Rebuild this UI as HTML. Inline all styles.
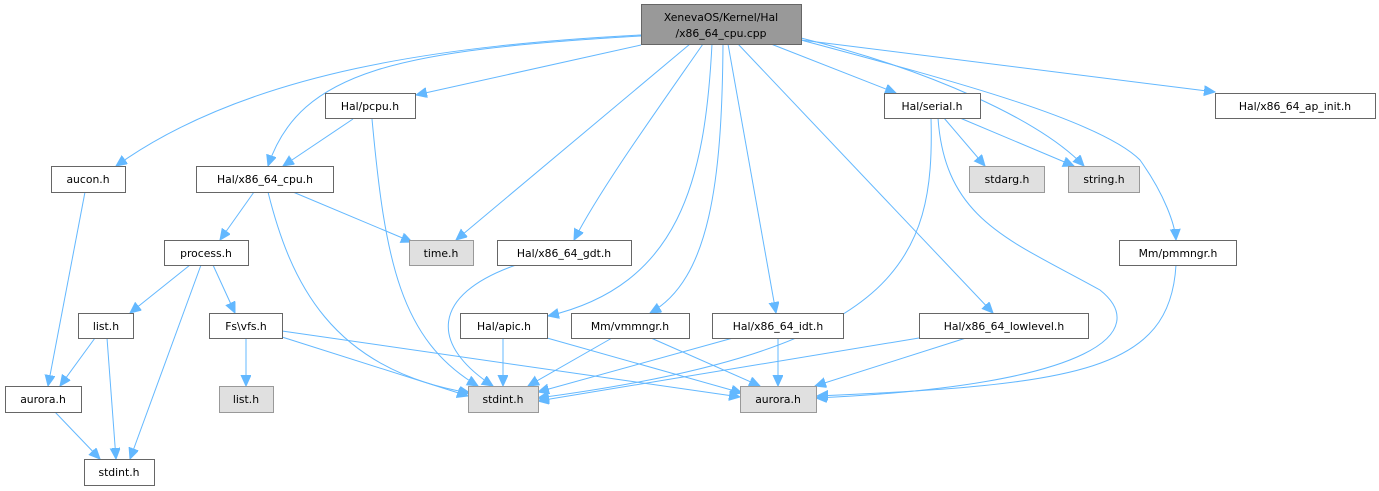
<!DOCTYPE html>
<html><head><meta charset="utf-8"><style>
html,body{margin:0;padding:0;background:#fff;}
svg{display:block;}
text{font-family:"DejaVu Sans","Liberation Sans",sans-serif;font-size:10.8px;fill:#000;text-anchor:middle;}
.e{fill:none;stroke:#63b8ff;stroke-width:1;marker-end:url(#a);}
.n{fill:#fff;stroke:#666;stroke-width:1;}
.g{fill:#e0e0e0;stroke:#999;stroke-width:1;}
</style></head><body>
<svg width="1379" height="491" viewBox="0 0 1379 491" xmlns="http://www.w3.org/2000/svg">
<defs><marker id="a" markerUnits="userSpaceOnUse" markerWidth="14" markerHeight="12" refX="11" refY="5" orient="auto"><path d="M0,0 L11,5 L0,10 z" fill="#63b8ff" stroke="#63b8ff"/></marker></defs>
<path class="e" d="M641,35 C450,45 250,70 116,166"/>
<path class="e" d="M641,36 C400,50 300,70 268,166"/>
<path class="e" d="M641,45 L416,95"/>
<path class="e" d="M353,119 L283,166"/>
<path class="e" d="M372,119 C385,260 400,340 478,386"/>
<path class="e" d="M254,192 L220,240"/>
<path class="e" d="M293,192 L412,242"/>
<path class="e" d="M268,192 C290,280 330,370 470,393"/>
<path class="e" d="M690,44 L456,240"/>
<path class="e" d="M703,44 C650,120 600,190 574,240"/>
<path class="e" d="M712,44 C705,180 680,285 548,316"/>
<path class="e" d="M723,44 C722,180 710,280 650,313"/>
<path class="e" d="M728,44 L776,313"/>
<path class="e" d="M738,44 L993,313"/>
<path class="e" d="M771,44 L896,93"/>
<path class="e" d="M801,38 C930,70 1040,120 1084,166"/>
<path class="e" d="M801,40 C950,80 1100,120 1140,160 C1165,195 1175,225 1176,240"/>
<path class="e" d="M801,40 L1215,92"/>
<path class="e" d="M944,118 L985,166"/>
<path class="e" d="M960,118 L1074,166"/>
<path class="e" d="M931,118 C935,260 900,350 538,398"/>
<path class="e" d="M938,118 C945,220 1010,240 1100,290 C1150,330 1100,385 816,398"/>
<path class="e" d="M1176,265 C1170,370 1080,385 817,396"/>
<path class="e" d="M919,338 L538,401"/>
<path class="e" d="M966,338 L815,386"/>
<path class="e" d="M778,338 L778,386"/>
<path class="e" d="M733,338 L538,392"/>
<path class="e" d="M651,338 L760,386"/>
<path class="e" d="M612,338 L528,386"/>
<path class="e" d="M503,338 L503,386"/>
<path class="e" d="M547,338 L742,393"/>
<path class="e" d="M516,265 C430,295 430,345 493,386"/>
<path class="e" d="M282,337 L468,396"/>
<path class="e" d="M282,331 L740,397"/>
<path class="e" d="M246,338 L246,386"/>
<path class="e" d="M190,265 L130,313"/>
<path class="e" d="M213,265 L235,313"/>
<path class="e" d="M201,265 L130,459"/>
<path class="e" d="M95,338 L60,386"/>
<path class="e" d="M107,338 L116,459"/>
<path class="e" d="M55,412 L100,459"/>
<path class="e" d="M85,192 L48,386"/>

<rect x="641.5" y="4.5" width="160" height="40" fill="#999" stroke="#666"/>
<text x="721" y="21">XenevaOS/Kernel/Hal</text>
<text x="721" y="37">/x86_64_cpu.cpp</text>

<rect class="n" x="325.5" y="93.5" width="90" height="25"/><text x="370" y="110">Hal/pcpu.h</text>
<rect class="n" x="884.5" y="93.5" width="96" height="25"/><text x="932" y="110">Hal/serial.h</text>
<rect class="n" x="1215.5" y="93.5" width="160" height="25"/><text x="1295" y="110">Hal/x86_64_ap_init.h</text>
<rect class="n" x="51.5" y="166.5" width="74" height="26"/><text x="88" y="183">aucon.h</text>
<rect class="n" x="196.5" y="166.5" width="137" height="26"/><text x="265" y="183">Hal/x86_64_cpu.h</text>
<rect class="g" x="969.5" y="166.5" width="75" height="26"/><text x="1007" y="183">stdarg.h</text>
<rect class="g" x="1068.5" y="166.5" width="71" height="26"/><text x="1104" y="183">string.h</text>
<rect class="n" x="164.5" y="240.5" width="84" height="25"/><text x="206" y="257">process.h</text>
<rect class="g" x="409.5" y="240.5" width="64" height="25"/><text x="441" y="257">time.h</text>
<rect class="n" x="497.5" y="240.5" width="134" height="25"/><text x="564" y="257">Hal/x86_64_gdt.h</text>
<rect class="n" x="1119.5" y="240.5" width="117" height="25"/><text x="1178" y="257">Mm/pmmngr.h</text>
<rect class="n" x="78.5" y="313.5" width="55" height="25"/><text x="106" y="330">list.h</text>
<rect class="n" x="209.5" y="313.5" width="73" height="25"/><text x="246" y="330">Fs\vfs.h</text>
<rect class="n" x="460.5" y="313.5" width="87" height="25"/><text x="504" y="330">Hal/apic.h</text>
<rect class="n" x="571.5" y="313.5" width="118" height="25"/><text x="630" y="330">Mm/vmmngr.h</text>
<rect class="n" x="712.5" y="313.5" width="131" height="25"/><text x="778" y="330">Hal/x86_64_idt.h</text>
<rect class="n" x="919.5" y="313.5" width="169" height="25"/><text x="1004" y="330">Hal/x86_64_lowlevel.h</text>
<rect class="n" x="5.5" y="386.5" width="76" height="26"/><text x="43" y="403">aurora.h</text>
<rect class="g" x="219.5" y="386.5" width="54" height="26"/><text x="246" y="403">list.h</text>
<rect class="g" x="468.5" y="386.5" width="70" height="26"/><text x="503" y="403">stdint.h</text>
<rect class="g" x="740.5" y="386.5" width="76" height="26"/><text x="778" y="403">aurora.h</text>
<rect class="n" x="84.5" y="459.5" width="70" height="26"/><text x="119" y="476">stdint.h</text>
</svg>
</body></html>
